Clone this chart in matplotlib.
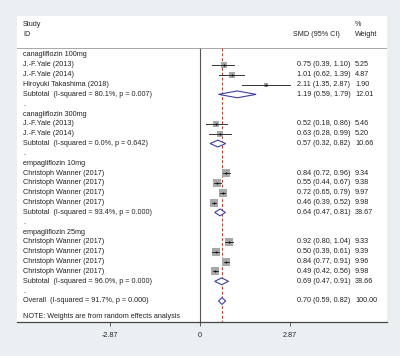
import matplotlib
matplotlib.use("Agg")
import matplotlib.pyplot as plt
import numpy as np

plt.rcParams['font.family'] = ['Liberation Sans', 'DejaVu Sans']

# ---- data ----
groups = ["canagliflozin 100mg", "canagliflozin 300mg", "empagliflozin 10mg", "empagliflozin 25mg"]
study_names = [
    ["J.-F.Yale (2013)", "J.-F.Yale (2014)", "Hiroyuki Takashima (2018)"],
    ["J.-F.Yale (2013)", "J.-F.Yale (2014)"],
    ["Christoph Wanner (2017)"] * 4,
    ["Christoph Wanner (2017)"] * 4,
]
study_est = [[0.75, 1.01, 2.11], [0.52, 0.63], [0.84, 0.55, 0.72, 0.46], [0.92, 0.50, 0.84, 0.49]]
study_lo = [[0.39, 0.62, 1.35], [0.18, 0.28], [0.72, 0.44, 0.65, 0.39], [0.80, 0.39, 0.77, 0.42]]
study_hi = [[1.10, 1.39, 2.87], [0.86, 0.99], [0.96, 0.67, 0.79, 0.52], [1.04, 0.61, 0.91, 0.56]]
study_w = [[5.25, 4.87, 1.90], [5.46, 5.20], [9.34, 9.38, 9.97, 9.98], [9.33, 9.39, 9.96, 9.98]]

sub_i2 = ["80.1%", "0.0%", "93.4%", "96.0%"]
sub_p = ["0.007", "0.642", "0.000", "0.000"]
sub_est = [1.19, 0.57, 0.64, 0.69]
sub_lo = [0.59, 0.32, 0.47, 0.47]
sub_hi = [1.79, 0.82, 0.81, 0.91]
sub_w = [12.01, 10.66, 38.67, 38.66]

overall_i2 = "91.7%"
overall_p = "0.000"
overall_est = 0.70
overall_lo = 0.59
overall_hi = 0.82
overall_w = 100.00

xticks = [-2.87, 0, 2.87]
xtick_labels = ["-2.87", "0", "2.87"]

# ---- layout ----
W, H = 400, 356
fig = plt.figure(figsize=(W / 100, H / 100), dpi=100)
fig.patch.set_facecolor("#EAF0F2")

px_left, px_right, px_top, px_bot = 17, 387, 16, 322
ax = fig.add_axes([px_left / W, (H - px_bot) / H, (px_right - px_left) / W, (px_bot - px_top) / H])
ax.set_facecolor("white")

scale = 90 / 2.87  # px per unit
x0px = 200
ax.set_xlim((px_left - x0px) / scale, (px_right - x0px) / scale)
ax.set_ylim(px_bot, px_top)

row0, dy = 55, 9.84
txt_col = "#222222"
fs = 5.2
tr = ax.get_yaxis_transform()
x_label = (23 - px_left) / (px_right - px_left)
x_smd = (297 - px_left) / (px_right - px_left)
x_wt = (355 - px_left) / (px_right - px_left)
x_smd_h = (293 - px_left) / (px_right - px_left)

def label(y, s, x=x_label):
    ax.text(x, y, s, transform=tr, fontsize=fs, color=txt_col, va="center", ha="left")

def diamond(y, est, lo, hi, hh=3.4):
    ax.fill([lo, est, hi, est, lo], [y, y - hh, y, y + hh, y],
            facecolor="white", edgecolor="#3F3F9F", lw=0.8, zorder=4)

# header
label(25, "Study")
label(35, "ID")
label(25, "%", x_wt)
label(35, "SMD (95% CI)", x_smd_h)
label(35, "Weight", x_wt)
ax.axhline(48, color="#999999", lw=0.6)

# reference lines
ax.plot([0, 0], [48, px_bot], color="#555555", lw=0.8, zorder=1)
ax.plot([overall_est, overall_est], [48, px_bot], color="#C0392B", lw=0.7,
        ls=(0, (3, 2)), zorder=2)

row = 0
for g in range(len(groups)):
    label(row0 + row * dy, groups[g])
    row += 1
    for k in range(len(study_names[g])):
        y = row0 + row * dy
        label(y, study_names[g][k])
        e, lo, hi, w = study_est[g][k], study_lo[g][k], study_hi[g][k], study_w[g][k]
        side_pt = 2.4 * np.sqrt(w) * 0.72
        ax.scatter([e], [y], marker="s", s=side_pt ** 2, color="#A8A8A8", lw=0, zorder=3)
        ax.plot([lo, hi], [y, y], color="#333333", lw=0.7, zorder=4)
        ax.scatter([e], [y], marker="o", s=2.0, color="black", lw=0, zorder=5)
        label(y, f"{e:.2f} ({lo:.2f}, {hi:.2f})", x_smd)
        label(y, f"{w:.2f}", x_wt)
        row += 1
    y = row0 + row * dy
    label(y, f"Subtotal  (I-squared = {sub_i2[g]}, p = {sub_p[g]})")
    diamond(y, sub_est[g], sub_lo[g], sub_hi[g])
    label(y, f"{sub_est[g]:.2f} ({sub_lo[g]:.2f}, {sub_hi[g]:.2f})", x_smd)
    label(y, f"{sub_w[g]:.2f}", x_wt)
    row += 1
    label(row0 + row * dy, ".")
    row += 1

y = row0 + row * dy
label(y, f"Overall  (I-squared = {overall_i2}, p = {overall_p})")
diamond(y, overall_est, overall_lo, overall_hi)
label(y, f"{overall_est:.2f} ({overall_lo:.2f}, {overall_hi:.2f})", x_smd)
label(y, f"{overall_w:.2f}", x_wt)
label(316, "NOTE: Weights are from random effects analysis")

# axes styling
for s in ["left", "right", "top"]:
    ax.spines[s].set_visible(False)
ax.spines["bottom"].set_color("#444444")
ax.spines["bottom"].set_linewidth(0.9)
ax.set_yticks([])
ax.set_xticks(xticks)
ax.set_xticklabels(xtick_labels, fontsize=fs, color=txt_col)
ax.tick_params(axis="x", length=3, width=0.6, color="#444444", pad=4)

fig.savefig("out.png", dpi=100, facecolor=fig.get_facecolor())
